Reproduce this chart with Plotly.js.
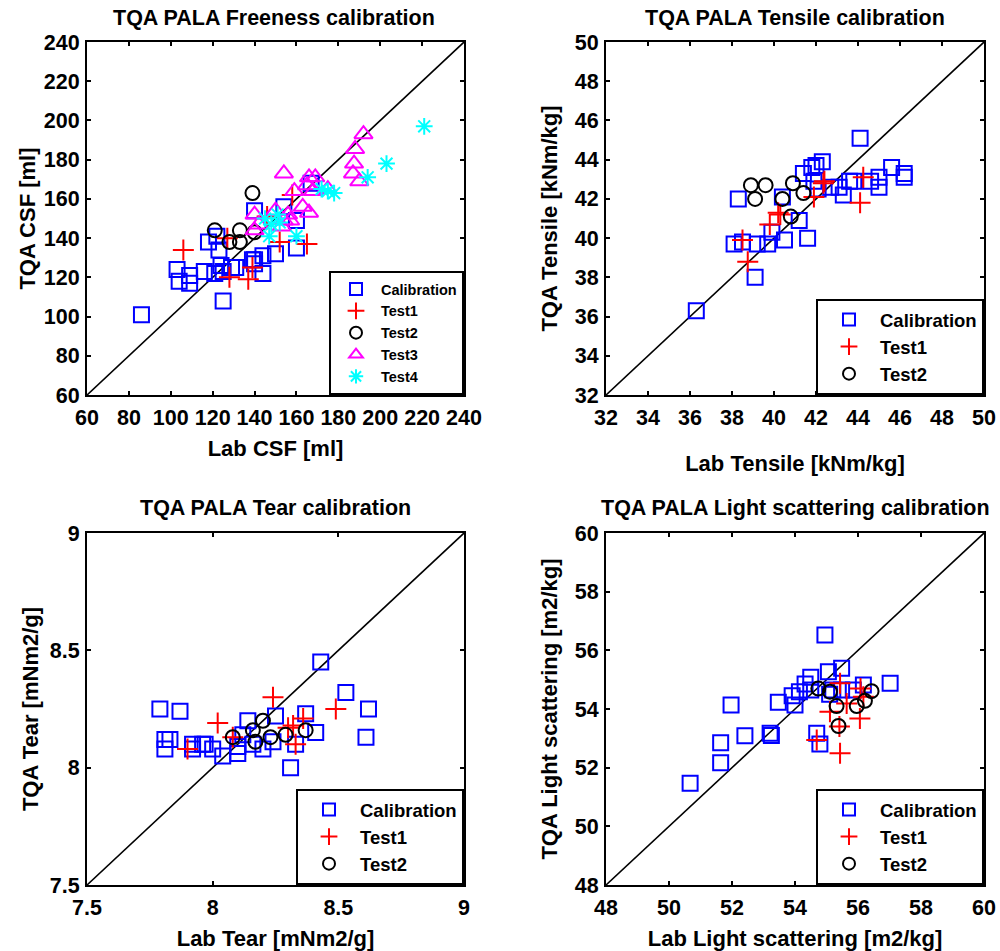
<!DOCTYPE html>
<html>
<head>
<meta charset="utf-8">
<script src="https://cdn.plot.ly/plotly-3.0.1.min.js"></script>
<style>html,body{margin:0;padding:0;background:#fff;}#chart{width:1000px;height:951px;}</style>
</head>
<body>
<div id="chart"></div>
<script>
// ---------- Freeness ----------
const calX1 = [86,125,103,104,109,109,116,121,125,124,118,122,123,129,131,139,140,140,144,144,150,160,140,154,160,167];
const calY1 = [101,108,124,118,117,121,123,122,123,126,138,141,134,125,125,129,129,127,131,122,132,135,154,156,149,168];
const t1X1 = [106,127,128,137,139,146,152,165,158];
const t1Y1 = [134,140,120,119,125,151,138,137,162];
const t2X1 = [121,128,133,133,139,140];
const t2Y1 = [144,138,144,138,163,143];
const t3X1 = [192,188,187.5,187,190,154,166,169,165,168,175,159,163,166,140,150,156,154,157,140,142,153];
const t3Y1 = [193,185.5,178,173,169,173,171,171,167,164,165,164,156,153,152,154,152,149,149,144,147,146];
const t4X1 = [221,203,194,178,175,172,160,145,148,147,152,151];
const t4Y1 = [197,178,171,163,164,165,141,150,147,141,148,152];
const range1 = [60,240];
const ticks1 = [60,80,100,120,140,160,180,200,220,240];

// ---------- Tensile ----------
const calX2 = [36.3,39.1,38.1,38.5,39.2,39.7,39.9,40.5,41.6,41.2,38.3,40.4,41.4,41.8,42.0,42.3,41.9,42.1,43.1,43.3,43.8,44.1,45.6,46.2,45.0,45.0,44.6,43.6,42.7,46.2];
const calY2 = [36.3,38.0,39.7,39.8,39.7,39.7,40.3,39.9,40.0,40.9,42.0,42.1,43.3,43.6,43.7,43.9,42.9,42.5,42.6,42.2,42.9,45.1,43.6,43.1,43.1,42.6,42.9,42.9,42.6,43.3];
const t1X2 = [38.5,38.75,39.8,40.2,40.3,41.9,42.35,42.4,44.25,44.1];
const t1Y2 = [39.9,38.8,40.7,41.3,41.2,42.1,42.8,42.9,43.1,41.8];
const t2X2 = [38.9,39.6,39.1,40.9,41.4,40.4,40.8];
const t2Y2 = [42.7,42.7,42.0,42.8,42.3,42.0,41.1];
const range2 = [32,50];
const ticks2 = [32,34,36,38,40,42,44,46,48,50];

// ---------- Tear ----------
const calX3 = [8.43,8.53,8.62,8.61,8.31,8.41,8.37,8.33,8.25,8.14,8.12,8.10,8.10,8.04,8.00,7.96,7.92,8.20,8.24,8.16,7.79,7.87,7.81,7.81,7.83,7.97,7.92];
const calY3 = [8.45,8.32,8.25,8.13,8.00,8.15,8.23,8.10,8.22,8.20,8.14,8.06,8.09,8.05,8.08,8.10,8.10,8.08,8.11,8.10,8.25,8.24,8.12,8.08,8.12,8.10,8.08];
const t1X3 = [8.02,7.90,8.24,8.08,8.30,8.36,8.49,8.33,8.32];
const t1Y3 = [8.19,8.08,8.30,8.13,8.17,8.21,8.25,8.10,8.18];
const t2X3 = [8.08,8.16,8.20,8.17,8.23,8.29,8.37];
const t2Y3 = [8.13,8.16,8.20,8.11,8.13,8.14,8.16];
const range3 = [7.5,9];
const ticks3 = [7.5,8,8.5,9];
const tickText3 = ['7.5','8','8.5','9'];

// ---------- Light scattering ----------
const calX4 = [50.67,51.64,51.64,51.97,52.41,53.21,53.25,53.47,53.91,54.0,54.14,54.32,54.5,54.5,54.95,54.69,54.79,55.06,55.48,55.2,55.48,55.85,56.17,57.02,55.1];
const calY4 = [51.47,52.17,52.85,54.14,53.09,53.17,53.1,54.23,54.45,54.14,54.59,54.85,55.08,54.65,56.52,53.17,52.81,55.27,55.39,54.65,54.65,54.65,54.82,54.88,54.5];
const t1X4 = [54.69,55.43,55.64,55.11,55.41,55.43,56.08,56.06,56.17];
const t1Y4 = [52.94,54.88,54.19,53.91,53.4,52.49,54.7,53.68,54.42];
const t2X4 = [54.74,55.11,55.32,55.38,55.96,56.22,56.43];
const t2Y4 = [54.7,54.59,54.1,53.42,54.1,54.28,54.61];
const range4 = [48,60];
const ticks4 = [48,50,52,54,56,58,60];

const FONT = 'Liberation Sans, Arial, sans-serif';

function mk(x, y, name, sym, color, size, ax, leg) {
  return {x: x, y: y, name: name, type: 'scatter', mode: 'markers',
    xaxis: 'x' + ax, yaxis: 'y' + ax, legend: leg,
    marker: {symbol: sym, size: size, color: color, line: {width: 2, color: color}}};
}
function diag(r, ax) {
  return {x: r, y: r, type: 'scatter', mode: 'lines', xaxis: 'x' + ax, yaxis: 'y' + ax,
    line: {color: 'black', width: 1.6}, showlegend: false, hoverinfo: 'skip'};
}

const SQ = ['square-open', 'blue', 15];
const PL = ['cross-thin-open', 'red', 15];
const CI = ['circle-open', 'black', 14];
const TR = ['triangle-up-open', 'magenta', 16];
const AS = ['asterisk-open', 'cyan', 14];

const data = [
  diag(range1, ''),
  mk(calX1, calY1, 'Calibration', ...SQ, '', 'legend'),
  mk(t1X1, t1Y1, 'Test1', ...PL, '', 'legend'),
  mk(t2X1, t2Y1, 'Test2', ...CI, '', 'legend'),
  mk(t3X1, t3Y1, 'Test3', ...TR, '', 'legend'),
  mk(t4X1, t4Y1, 'Test4', ...AS, '', 'legend'),
  diag(range2, '2'),
  mk(calX2, calY2, 'Calibration', ...SQ, '2', 'legend2'),
  mk(t1X2, t1Y2, 'Test1', ...PL, '2', 'legend2'),
  mk(t2X2, t2Y2, 'Test2', ...CI, '2', 'legend2'),
  diag(range3, '3'),
  mk(calX3, calY3, 'Calibration', ...SQ, '3', 'legend3'),
  mk(t1X3, t1Y3, 'Test1', ...PL, '3', 'legend3'),
  mk(t2X3, t2Y3, 'Test2', ...CI, '3', 'legend3'),
  diag(range4, '4'),
  mk(calX4, calY4, 'Calibration', ...SQ, '4', 'legend4'),
  mk(t1X4, t1Y4, 'Test1', ...PL, '4', 'legend4'),
  mk(t2X4, t2Y4, 'Test2', ...CI, '4', 'legend4')
];

const tickFont = {family: FONT, size: 21.5, color: 'black', weight: 'bold'};
const titleFont = {family: FONT, size: 22, color: 'black', weight: 'bold'};
function axis(domain, anchor, range, tv, tt, title, standoff, isX) {
  const a = {domain: domain, anchor: anchor, range: range, tickvals: tv,
    showline: true, linecolor: 'black', linewidth: 2, mirror: 'ticks',
    ticks: 'inside', ticklen: 4, tickwidth: 2, tickcolor: 'black',
    showgrid: false, zeroline: false, automargin: false, fixedrange: true,
    tickfont: tickFont, ticklabelstandoff: isX ? 2 : 1,
    title: {text: title, font: titleFont, standoff: standoff}};
  if (tt) a.ticktext = tt;
  return a;
}

const xdL = [0.087, 0.464], xdR = [0.606, 0.984];
const ydT = [0.5846, 0.9558], ydB = [0.0694, 0.4395];

function legend(x, y, size, iw) {
  return {x: x, y: y, xanchor: 'right', yanchor: 'bottom', bgcolor: 'white',
    bordercolor: 'black', borderwidth: 2, font: {family: FONT, size: size, color: 'black', weight: 'bold'},
    tracegroupgap: 0, itemsizing: 'constant', itemwidth: iw};
}
function ttl(text, x, y) {
  return {text: text, x: x, y: y, xref: 'paper', yref: 'paper', xanchor: 'center', yanchor: 'middle',
    showarrow: false, font: {family: FONT, size: 21.5, color: 'black', weight: 'bold'}};
}

const layout = {
  width: 1000, height: 951, margin: {l: 0, r: 0, t: 0, b: 0},
  paper_bgcolor: 'white', plot_bgcolor: 'white',
  xaxis: axis(xdL, 'y', range1, ticks1, null, 'Lab CSF [ml]', 12, true),
  yaxis: axis(ydT, 'x', range1, ticks1, null, 'TQA CSF [ml]', 2, false),
  xaxis2: axis(xdR, 'y2', range2, ticks2, null, 'Lab Tensile [kNm/kg]', 27, true),
  yaxis2: axis(ydT, 'x2', range2, ticks2, null, 'TQA Tensile [kNm/kg]', 11, false),
  xaxis3: axis(xdL, 'y3', range3, ticks3, tickText3, 'Lab Tear [mNm2/g]', 15, true),
  yaxis3: axis(ydB, 'x3', range3, ticks3, tickText3, 'TQA Tear [mNm2/g]', 5, false),
  xaxis4: axis(xdR, 'y4', range4, ticks4, null, 'Lab Light scattering [m2/kg]', 15, true),
  yaxis4: axis(ydB, 'x4', range4, ticks4, null, 'TQA Light scattering [m2/kg]', 11, false),
  legend: legend(0.464, 0.5846, 14.5, 40),
  legend2: legend(0.984, 0.5846, 18.5, 52),
  legend3: legend(0.464, 0.0694, 18.5, 52),
  legend4: legend(0.984, 0.0694, 18.5, 52),
  annotations: [
    ttl('TQA PALA Freeness calibration', 0.2735, 0.981),
    ttl('TQA PALA Tensile calibration', 0.795, 0.981),
    ttl('TQA PALA Tear calibration', 0.2755, 0.4658),
    ttl('TQA PALA Light scattering calibration', 0.795, 0.4658)
  ],
  showlegend: true
};

Plotly.newPlot('chart', data, layout, {staticPlot: true, displayModeBar: false});
</script>
</body>
</html>
